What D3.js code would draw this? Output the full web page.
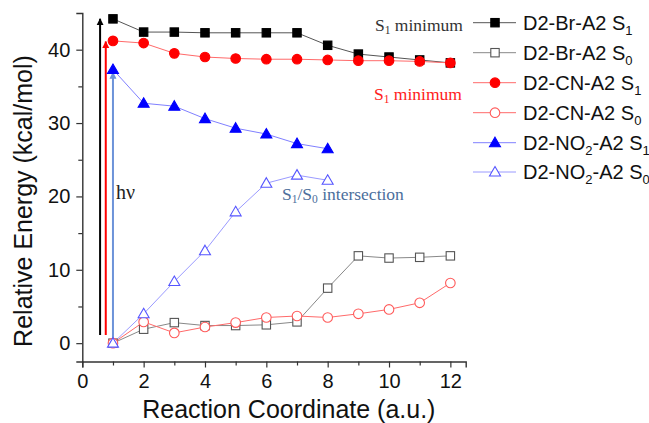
<!DOCTYPE html>
<html><head><meta charset="utf-8">
<script src="https://cdn.jsdelivr.net/npm/d3@7/dist/d3.min.js"></script>
<style>body{margin:0;background:#fff}svg{display:block}</style>
</head><body><svg id="c" width="649" height="423"></svg>
<script>
// ---- data ----
const xTicks = [0, 2, 4, 6, 8, 10, 12];
const yTicks = [0, 10, 20, 30, 40];
const coordBr = [1,2,3,4,5,6,7,8,9,10,11,12];
const coordCN = [1,2,3,4,5,6,7,8,9,10,11,12];
const coordNO2 = [1,2,3,4,5,6,7,8];
const brS1 = [44.2, 42.4, 42.4, 42.3, 42.3, 42.3, 42.3, 40.6, 39.4, 39.0, 38.6, 38.2];
const brS0 = [0, 1.9, 2.8, 2.4, 2.4, 2.5, 2.9, 7.5, 11.9, 11.6, 11.7, 11.9];
const cnS1 = [41.2, 40.9, 39.5, 39.0, 38.8, 38.7, 38.7, 38.6, 38.5, 38.5, 38.4, 38.2];
const cnS0 = [0, 2.9, 1.4, 2.2, 2.8, 3.5, 3.7, 3.5, 4.0, 4.6, 5.5, 8.2];
const no2S1 = [37.3, 32.7, 32.3, 30.6, 29.3, 28.5, 27.2, 26.5];
const no2S0 = [0, 4.0, 8.4, 12.6, 17.9, 21.8, 22.9, 22.2];
const seriesNames = [["D2-Br-A2 S","1"],["D2-Br-A2 S","0"],["D2-CN-A2 S","1"],["D2-CN-A2 S","0"],["D2-NO","2","-A2 S","1"],["D2-NO","2","-A2 S","0"]];
const arrowX = [0.58, 0.765, 1.0];
const arrowFrom = [1.1, 1.1, 0];
const arrowTo = [44.2, 41.1, 36.9];

// ---- styles ----
const series = [
  {x: coordBr, y: brS1, line: "#555", shape: "square", fill: "#000", stroke: "#000"},
  {x: coordBr, y: brS0, line: "#888", shape: "square", fill: "#fff", stroke: "#555"},
  {x: coordCN, y: cnS1, line: "#ff6a6a", shape: "circle", fill: "#ff0000", stroke: "#ff0000"},
  {x: coordCN, y: cnS0, line: "#ff6a6a", shape: "circle", fill: "#fff", stroke: "#ff5a5a"},
  {x: coordNO2, y: no2S1, line: "#8080ff", shape: "triangle", fill: "#0000ff", stroke: "#0000ff"},
  {x: coordNO2, y: no2S0, line: "#9a9aff", shape: "triangle", fill: "#fff", stroke: "#5555ff"}
];
const arrowColors = ["#000", "#ff0000", "#6d93d9"];

const svg = d3.select("#c");
const x = d3.scaleLinear().domain([0, 12.5]).range([82.3, 465.7]);
const y = d3.scaleLinear().domain([-2.5, 45]).range([361.5, 13]);
const font = "Liberation Sans, Arial, sans-serif";
const serif = "Liberation Serif, Times New Roman, serif";

// axes
const xAxis = svg.append("g").attr("transform", `translate(0,${y(-2.5)})`)
  .call(d3.axisBottom(x).tickValues(xTicks).tickSize(6).tickPadding(6).tickFormat(d3.format("d")));
const xMinor = svg.append("g").attr("transform", `translate(0,${y(-2.5)})`)
  .call(d3.axisBottom(x).tickValues(d3.range(1, 13, 2)).tickSize(4).tickFormat(""));
const yAxis = svg.append("g").attr("transform", `translate(${x(0)},0)`)
  .call(d3.axisLeft(y).tickValues(yTicks).tickSize(6).tickPadding(6));
const yMinor = svg.append("g").attr("transform", `translate(${x(0)},0)`)
  .call(d3.axisLeft(y).tickValues([5, 15, 25, 35]).tickSize(4).tickFormat(""));
[xAxis, xMinor, yAxis, yMinor].forEach(g => {
  g.select(".domain").attr("stroke", "#333").attr("stroke-width", 1.4);
  g.selectAll(".tick line").attr("stroke", "#333").attr("stroke-width", 1.2);
  g.selectAll("text").attr("font-family", font).attr("font-size", 20).attr("fill", "#111");
});
xMinor.select(".domain").remove(); yMinor.select(".domain").remove();

// axis titles
svg.append("text").attr("x", (141.7 + 436) / 2).attr("y", 418).attr("text-anchor", "middle")
  .attr("font-family", font).attr("font-size", 25).attr("fill", "#111").text("Reaction Coordinate (a.u.)");
svg.append("text").attr("transform", `translate(32,201) rotate(-90)`).attr("text-anchor", "middle")
  .attr("font-family", font).attr("font-size", 25).attr("fill", "#111").text("Relative Energy (kcal/mol)");

// arrows
const defs = svg.append("defs");
arrowColors.forEach((c, i) => {
  defs.append("marker").attr("id", "ah" + i).attr("viewBox", "0 0 10 10").attr("refX", 9).attr("refY", 5)
    .attr("markerWidth", 7).attr("markerHeight", 8).attr("markerUnits", "userSpaceOnUse").attr("orient", "auto")
    .append("path").attr("d", "M0,0 L10,5 L0,10 z").attr("fill", c);
});
arrowX.forEach((ax, i) => {
  svg.append("line").attr("x1", x(ax)).attr("x2", x(ax)).attr("y1", y(arrowFrom[i])).attr("y2", y(arrowTo[i]))
    .attr("stroke", arrowColors[i]).attr("stroke-width", 2).attr("marker-end", `url(#ah${i})`);
});

// markers
function drawMarker(g, shape, cx, cy, fill, stroke) {
  if (shape === "square") g.append("rect").attr("x", cx - 4.2).attr("y", cy - 4.2).attr("width", 8.4).attr("height", 8.4)
    .attr("fill", fill).attr("stroke", stroke).attr("stroke-width", 1.1);
  else if (shape === "circle") g.append("circle").attr("cx", cx).attr("cy", cy).attr("r", 4.8)
    .attr("fill", fill).attr("stroke", stroke).attr("stroke-width", 1.1);
  else g.append("path").attr("d", `M${cx},${cy - 5.5} L${cx + 5.5},${cy + 4} L${cx - 5.5},${cy + 4} Z`)
    .attr("fill", fill).attr("stroke", stroke).attr("stroke-width", 1.1);
}
const line = d3.line().x(d => x(d[0])).y(d => y(d[1]));
series.forEach(s => {
  const pts = s.x.map((v, i) => [v, s.y[i]]);
  svg.append("path").attr("d", line(pts)).attr("fill", "none").attr("stroke", s.line).attr("stroke-width", 1);
});
series.forEach(s => {
  const g = svg.append("g");
  s.x.forEach((v, i) => drawMarker(g, s.shape, x(v), y(s.y[i]), s.fill, s.stroke));
});

// annotations
function annot(tx, ty, parts, color, size) {
  const t = svg.append("text").attr("x", tx).attr("y", ty).attr("font-family", serif).attr("font-size", size || 17.5).attr("fill", color);
  parts.forEach(p => {
    if (p.sub) t.append("tspan").attr("font-size", 11.5).attr("dy", 3).text(p.t);
    else t.append("tspan").attr("dy", p.after ? -3 : 0).text(p.t);
  });
}
annot(375, 31, [{t: "S"}, {t: "1", sub: true}, {t: " minimum", after: true}], "#333");
annot(374, 100, [{t: "S"}, {t: "1", sub: true}, {t: " minimum", after: true}], "#ff2020");
annot(282, 200, [{t: "S"}, {t: "1", sub: true}, {t: "/S", after: true}, {t: "0", sub: true}, {t: " intersection", after: true}], "#4c6e9c");
annot(116, 199, [{t: "hν"}], "#222", 20);

// legend
const legY = [22.7, 52.7, 82.7, 112.7, 142.7, 172];
series.forEach((s, i) => {
  const ly = legY[i];
  svg.append("line").attr("x1", 473).attr("x2", 516).attr("y1", ly).attr("y2", ly).attr("stroke", s.line).attr("stroke-width", 1);
  drawMarker(svg, s.shape, 495, ly, s.fill, s.stroke);
  const t = svg.append("text").attr("x", 523).attr("y", ly + 7).attr("font-family", font).attr("font-size", 20).attr("fill", "#111");
  const nm = seriesNames[i];
  if (nm.length === 2) {
    t.append("tspan").text(nm[0]);
    t.append("tspan").attr("font-size", 13).attr("dy", 5).text(nm[1]);
  } else {
    t.append("tspan").text(nm[0]);
    t.append("tspan").attr("font-size", 13).attr("dy", 5).text(nm[1]);
    t.append("tspan").attr("dy", -5).text(nm[2]);
    t.append("tspan").attr("font-size", 13).attr("dy", 5).text(nm[3]);
  }
});
</script></body></html>
